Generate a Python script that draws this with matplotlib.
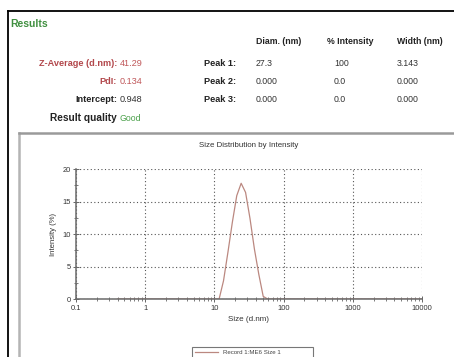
import matplotlib
matplotlib.use("Agg")
import matplotlib.pyplot as plt
from matplotlib.lines import Line2D
from matplotlib.ticker import FixedLocator, NullFormatter

plt.rcParams['font.family'] = ['Liberation Sans', 'DejaVu Sans']

# Summary results
summary_labels = ["Z-Average (d.nm):", "PdI:", "Intercept:"]
summary_values = ["41.29", "0.134", "0.948"]
peak_names = ["Peak 1:", "Peak 2:", "Peak 3:"]
peak_diam = ["27.3", "0.000", "0.000"]
peak_intensity = ["100", "0.0", "0.0"]
peak_width = ["3.143", "0.000", "0.000"]
quality = "Good"

# Size distribution by intensity (instrument size classes, nm / %)
size_nm = [0.3999, 0.4632, 0.5365, 0.6213, 0.7195, 0.8332, 0.9649, 1.117, 1.294, 1.499,
           1.736, 2.010, 2.328, 2.696, 3.122, 3.615, 4.187, 4.849, 5.615, 6.503,
           7.531, 8.721, 10.10, 11.70, 13.54, 15.69, 18.17, 21.04, 24.36, 28.21,
           32.67, 37.84, 43.82, 50.75, 58.77, 68.06, 78.82, 91.28, 105.7, 122.4,
           141.8, 164.2, 190.1, 220.2, 255.0, 295.3, 342.0, 396.1, 458.7, 531.2,
           615.1, 712.4, 825.0, 955.4, 1106, 1281, 1484, 1718, 1990, 2305,
           2669, 3091, 3580, 4145, 4801, 5560, 6439, 7456, 8635, 10000]
intensity = [0, 0, 0, 0, 0, 0, 0, 0, 0, 0,
             0, 0, 0, 0, 0, 0, 0, 0, 0, 0,
             0, 0, 0, 0, 2.8, 7.2, 11.8, 15.9, 17.8, 16.4,
             12.4, 7.7, 3.8, 0.4, 0, 0, 0, 0, 0, 0,
             0, 0, 0, 0, 0, 0, 0, 0, 0, 0,
             0, 0, 0, 0, 0, 0, 0, 0, 0, 0,
             0, 0, 0, 0, 0, 0, 0, 0, 0, 0]
xticks = [0.1, 1, 10, 100, 1000, 10000]
xtick_labels = ["0.1", "1", "10", "100", "1000", "10000"]
yticks = [0, 5, 10, 15, 20]
record_label = "Record 1:ME6 Size 1"

W, H = 454, 357
fig = plt.figure(figsize=(W / 100, H / 100), dpi=100)
fig.patch.set_facecolor("white")


def px(x, y):
    return x / W, 1 - y / H


red = "#b2474b"
red_val = "#c0585a"
green = "#3f8f3f"

# frames
fig.add_artist(Line2D([8 / W, 8 / W], [1 - 11 / H, 0], color="black", lw=1.3,
                      transform=fig.transFigure))
fig.add_artist(Line2D([8 / W, 1], [1 - 11 / H, 1 - 11 / H], color="black", lw=1.3,
                      transform=fig.transFigure))
fig.add_artist(Line2D([19 / W, 19 / W], [1 - 133 / H, 0], color="#b4b4b4", lw=1.8,
                      transform=fig.transFigure))
fig.add_artist(Line2D([19 / W, 1], [1 - 133 / H, 1 - 133 / H], color="#9a9a9a", lw=1.8,
                      transform=fig.transFigure))

# results header
fig.text(*px(10, 24), "Results", color=green, fontsize=7.5, fontweight="bold", va="center")
for x, head in [(256, "Diam. (nm)"), (327, "% Intensity"), (397, "Width (nm)")]:
    fig.text(*px(x, 42), head, fontsize=6.3, fontweight="bold", color="#222222", va="center")

rows_y = [63, 81, 99]
for i, (lab, val) in enumerate(zip(summary_labels, summary_values)):
    col = red if i < 2 else "#222222"
    vcol = red_val if i < 2 else "#333333"
    fig.text(*px(117, rows_y[i]), lab, color=col, fontsize=6.6, fontweight="bold",
             ha="right", va="center")
    fig.text(*px(120, rows_y[i] + 1), val, color=vcol, fontsize=6.6, va="center")
fig.text(*px(117, 118), "Result quality", color="#222222", fontsize=7.3,
         fontweight="bold", ha="right", va="center")
fig.text(*px(120, 119), quality, color="#4aa04a", fontsize=6.3, va="center")

for i in range(3):
    y = rows_y[i]
    fig.text(*px(236, y), peak_names[i], fontsize=6.6, fontweight="bold",
             color="#222222", ha="right", va="center")
    fig.text(*px(256, y + 1), peak_diam[i], fontsize=6.3, color="#333333", va="center")
    fig.text(*px(334, y), peak_intensity[i], fontsize=6.3, color="#333333", va="center")
    fig.text(*px(397, y + 1), peak_width[i], fontsize=6.3, color="#333333", va="center")

# distribution plot
ax = fig.add_axes([76 / W, 1 - 299 / H, 346 / W, 130 / H])
ax.plot(size_nm, intensity, color="#bb8880", lw=0.9, label=record_label, zorder=2)
ax.set_xscale("log")
ax.set_xlim(0.1, 10000)
ax.set_ylim(0, 20)
ax.xaxis.set_major_locator(FixedLocator(xticks))
ax.set_xticklabels(xtick_labels)
ax.xaxis.set_minor_formatter(NullFormatter())
ax.set_yticks(yticks)
ax.yaxis.set_minor_locator(FixedLocator([2.5, 7.5, 12.5, 17.5]))
ax.grid(True, which="major", color="#555555", linestyle=(0, (1, 2.2)), lw=0.8)
for s in ["top", "right"]:
    ax.spines[s].set_visible(False)
for s in ["left", "bottom"]:
    ax.spines[s].set_color("#6a6a6a")
    ax.spines[s].set_linewidth(1.1)
    ax.spines[s].set_zorder(3)
ax.tick_params(which="major", direction="inout", length=4, width=0.7, color="#666666",
               labelsize=5.4, labelcolor="#333333", pad=2)
ax.tick_params(which="minor", direction="inout", length=3, width=0.6, color="#666666")
ax.set_xlabel("Size (d.nm)", fontsize=5.8, color="#333333", labelpad=3)
ax.set_ylabel("Intensity (%)", fontsize=5.6, color="#333333")
ax.yaxis.set_label_coords((57 - 76) / 346, 0.5)
ax.set_title("Size Distribution by Intensity", fontsize=5.7, color="#333333", pad=16)

leg = ax.legend(loc="upper left", bbox_to_anchor=(192 / W, 1 - 347 / H, 121 / W, 0),
                bbox_transform=fig.transFigure, mode="expand", fontsize=4.4,
                handlelength=3.8, handletextpad=0.8, borderpad=0.5, borderaxespad=0,
                fancybox=False, framealpha=1)
leg.get_frame().set_edgecolor("#777777")
leg.get_frame().set_linewidth(0.8)
for t in leg.get_texts():
    t.set_color("#444444")

fig.savefig("out.png", dpi=100)
